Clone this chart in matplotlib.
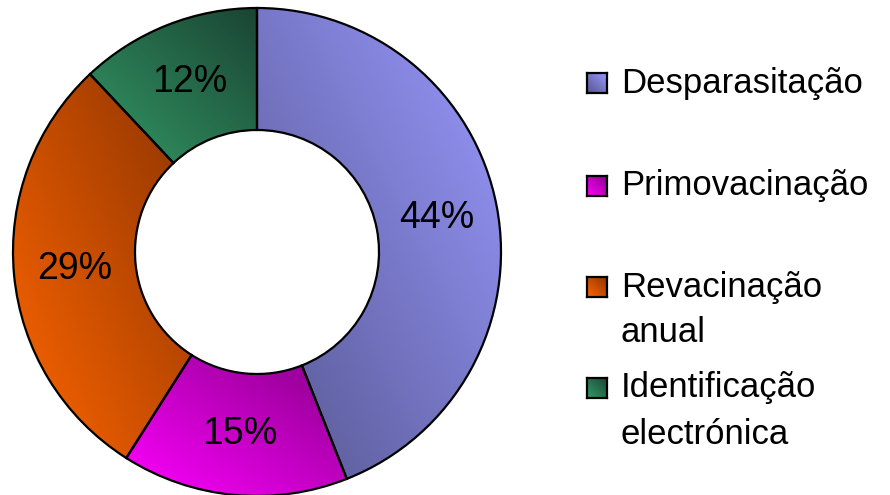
import matplotlib.pyplot as plt
import numpy as np
from matplotlib.colors import LinearSegmentedColormap

plt.rcParams['font.family'] = ['Liberation Sans', 'DejaVu Sans']

# data
labels = ['Desparasitação', 'Primovacinação', 'Revacinação\nanual', 'Identificação\nelectrónica']
values = [44, 15, 29, 12]
# gradient colours: lower-left -> upper-right
grad_colors = [('#565690', '#9999ff'),
               ('#ff00ff', '#880088'),
               ('#ff6600', '#8c3300'),
               ('#339966', '#1a4433')]

fig = plt.figure(figsize=(8.9, 4.95), dpi=100)
W, H = 890, 495
cx, cy, R = 257, 252, 244
ax = fig.add_axes([(cx - R) / W, (H - cy - R) / H, 2 * R / W, 2 * R / H])

wedges, _ = ax.pie(values, startangle=90, counterclock=False, radius=1,
                   wedgeprops=dict(width=0.5, edgecolor='black', linewidth=1.6,
                                   facecolor='none'))


def gradient(c0, c1, n=200):
    cmap = LinearSegmentedColormap.from_list('g', [c0, c1])
    xx, yy = np.meshgrid(np.linspace(0, 1, n), np.linspace(0, 1, n))
    return cmap((xx + yy) / 2)


for w, (c0, c1) in zip(wedges, grad_colors):
    bb = w.get_path().get_extents()
    im = ax.imshow(gradient(c0, c1), extent=[bb.x0, bb.x1, bb.y0, bb.y1],
                   origin='lower', interpolation='bilinear', zorder=0.5)
    im.set_clip_path(w)
    w.set_zorder(2)

# percentage labels at mid radius
start = 90
total = sum(values)
for v in values:
    ang = np.deg2rad(start - v / total * 360 / 2)
    ax.text(0.75 * np.cos(ang), 0.75 * np.sin(ang), f'{v}%', ha='center',
            va='center', fontsize=27, zorder=3)
    start -= v / total * 360

ax.set_xlim(-1, 1)
ax.set_ylim(-1, 1)
ax.set_aspect('auto')
ax.axis('off')

# legend
leg_y = [83, 186, 287, 388]
sq = 20
for lab, (c0, c1), y in zip(labels, grad_colors, leg_y):
    sax = fig.add_axes([587 / W, (H - y - sq / 2) / H, sq / W, sq / H])
    sax.imshow(gradient(c0, c1, 30), origin='lower', extent=[0, 1, 0, 1],
               aspect='auto')
    sax.set_xticks([])
    sax.set_yticks([])
    for s in sax.spines.values():
        s.set_linewidth(1.6)
    for i, line in enumerate(lab.split('\n')):
        fig.text(621 / W, (H - y - i * 46) / H, line, fontsize=25,
                 va='center', ha='left')

fig.savefig('out.png', dpi=100)
